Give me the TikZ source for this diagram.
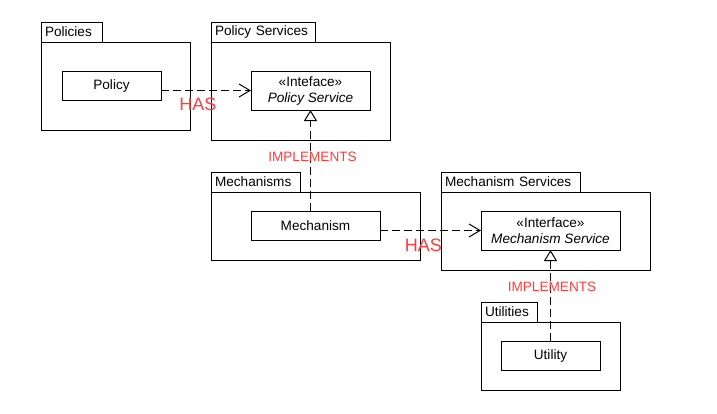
\documentclass[tikz,border=0pt]{standalone}
\usepackage{fontspec}
\setmainfont{Liberation Sans}
\usepackage{tikz}
\usetikzlibrary{positioning,arrows.meta}
\definecolor{NoteRed}{RGB}{255,60,60}

\begin{document}
\begin{tikzpicture}[
	x=1pt, y=-1pt,
	font=\fontsize{13.6}{16}\selectfont,
	pkgbody/.style={draw, line width=1pt, outer sep=0pt, anchor=north west, inner sep=0pt},
	pkgtab/.style={draw, line width=1pt, outer sep=0pt, inner xsep=4pt, inner ysep=0pt, minimum height=20pt, align=left},
	elem/.style={draw, line width=1pt, outer sep=0pt, anchor=north west, inner sep=0pt, align=center},
	has/.style={dashed, dash pattern=on 8pt off 4pt, line width=1pt, -{Straight Barb[length=11pt,width=13pt]}},
	impl/.style={dashed, dash pattern=on 8pt off 4pt, line width=1pt, -{Triangle[open,length=11pt,width=13pt,fill=white]}},
	note/.style={text=NoteRed, inner sep=0pt}
	]
	
	\fill[white] (0,0) rectangle (717,413);
	\useasboundingbox (0,0) rectangle (717,413);
	
	% packages
	\node[pkgbody, minimum width=149pt, minimum height=88pt] (PolBody) at (41,42) {};
	\node[pkgtab, text width=53pt, above right=0pt and 0pt of PolBody.north west] (PolTab) {Policies};
	
	\node[pkgbody, minimum width=179pt, minimum height=98pt] (PSBody) at (211,42) {};
	\node[pkgtab, text width=96pt, above right=0pt and 0pt of PSBody.north west] (PSTab) {Policy Services};
	
	\node[pkgbody, minimum width=209pt, minimum height=68pt] (MecBody) at (211,192) {};
	\node[pkgtab, text width=81pt, above right=0pt and 0pt of MecBody.north west] (MecTab) {Mechanisms};
	
	\node[pkgbody, minimum width=209pt, minimum height=78pt] (MSBody) at (441,192) {};
	\node[pkgtab, text width=131pt, above right=0pt and 0pt of MSBody.north west] (MSTab) {Mechanism Services};
	
	\node[pkgbody, minimum width=139pt, minimum height=68pt] (UtBody) at (481,322) {};
	\node[pkgtab, text width=48pt, above right=0pt and 0pt of UtBody.north west] (UtTab) {Utilities};
	
	% elements
	\node[elem, minimum width=99pt, minimum height=29pt] (Pol) at (62,71) {Policy};
	\node[elem, minimum width=119pt, minimum height=39pt] (PSvc) at (251,71) {«Inteface»\\\textit{Policy Service}};
	\node[elem, minimum width=129pt, minimum height=29pt] (Mec) at (251,211) {Mechanism};
	\node[elem, minimum width=139pt, minimum height=39pt] (MSvc) at (481,211) {«Interface»\\\textit{Mechanism Service}};
	\node[elem, minimum width=99pt, minimum height=29pt] (Ut) at (501,341) {Utility};
	
	% relations
	\draw[has] (Pol.east |- PSvc.west) -- node[note, pos=0.41, yshift=-13.5pt, font=\fontsize{18}{20}\selectfont] (Has1) {HAS} (PSvc.west);
	\draw[has] (Mec.east |- MSvc.west) -- node[note, pos=0.43, yshift=-14.5pt, font=\fontsize{18}{20}\selectfont] (Has2) {HAS} (MSvc.west);
	\draw[impl] (Mec.north -| PSvc.south) -- node[note, pos=0.535, xshift=2pt] (Impl1) {IMPLEMENTS} (PSvc.south);
	\draw[impl] (Ut.north) -- node[note, pos=0.59, xshift=1.5pt] (Impl2) {IMPLEMENTS} (MSvc.south);
	
\end{tikzpicture}
\end{document}
